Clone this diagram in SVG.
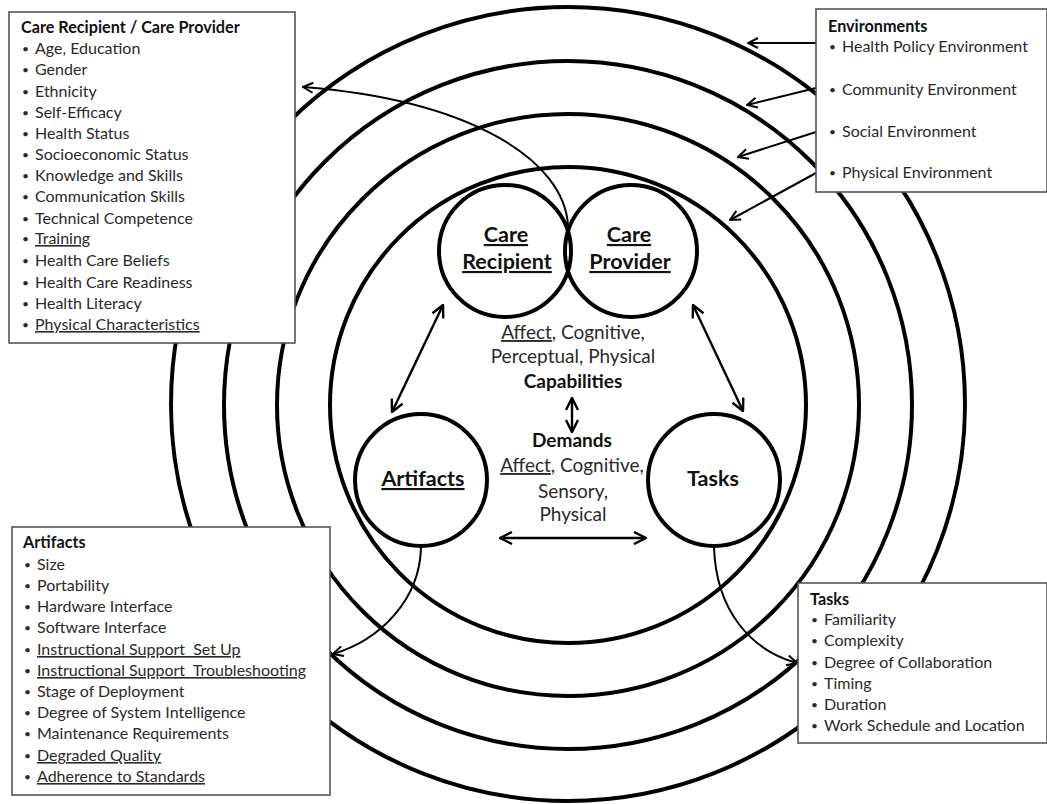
<svg xmlns="http://www.w3.org/2000/svg" width="1047" height="804" viewBox="0 0 1047 804">
<style>
.ring{fill:none;stroke:#000;stroke-width:4}
.node{fill:#fff;stroke:#000;stroke-width:4}
.box{fill:#fff;stroke:#555;stroke-width:1.6}
.ln{fill:none;stroke:#000;stroke-width:2}
.dbl{fill:none;stroke:#000;stroke-width:2.4}
text{font-family:Lato,"Liberation Sans",sans-serif;fill:#2a2a2a}
.t{font-size:16.2px;font-weight:bold;fill:#111}
.i{font-size:16px}
.b{font-size:12px}
.u{text-decoration:underline}
.c{font-size:19px;text-anchor:middle}
.cb{font-size:19px;font-weight:bold;text-anchor:middle;fill:#111}
.n{font-size:21.5px;font-weight:bold;text-anchor:middle;fill:#111}
</style>
<defs>
<marker id="ah" viewBox="0 0 12 12" refX="11" refY="6" markerWidth="12" markerHeight="12" markerUnits="userSpaceOnUse" orient="auto-start-reverse">
<path d="M1,1 L11,6 L1,11" fill="none" stroke="#000" stroke-width="2"/>
</marker>
<marker id="ah2" viewBox="0 0 14 14" refX="13" refY="7" markerWidth="14" markerHeight="14" markerUnits="userSpaceOnUse" orient="auto-start-reverse">
<path d="M1,1 L13,7 L1,13" fill="none" stroke="#000" stroke-width="2.4"/>
</marker>
</defs>
<rect width="1047" height="804" fill="#fff"/>
<g id="rings">
<circle class="ring" cx="568" cy="404" r="397"/>
<circle class="ring" cx="568" cy="405" r="344"/>
<circle class="ring" cx="568" cy="405" r="291"/>
<circle class="ring" cx="568" cy="405" r="238"/>
</g>
<g id="connectors">
<path class="ln" d="M568,226 C565,160 470,100 303,87" marker-end="url(#ah)"/>
<path class="ln" d="M421,547 C420,600 380,640 333,654" marker-end="url(#ah)"/>
<path class="ln" d="M714,547 C716,610 750,650 797,663" marker-end="url(#ah)"/>
<line class="ln" x1="816" y1="43" x2="748" y2="43" marker-end="url(#ah)"/>
<line class="ln" x1="816" y1="88" x2="747" y2="105" marker-end="url(#ah)"/>
<line class="ln" x1="816" y1="132" x2="738" y2="157" marker-end="url(#ah)"/>
<line class="ln" x1="816" y1="173" x2="730" y2="220" marker-end="url(#ah)"/>
<line class="dbl" x1="443" y1="305" x2="392" y2="412" marker-start="url(#ah2)" marker-end="url(#ah2)"/>
<line class="dbl" x1="693" y1="305" x2="743" y2="411" marker-start="url(#ah2)" marker-end="url(#ah2)"/>
<line class="dbl" x1="572" y1="398" x2="572" y2="432" stroke-width="3" marker-start="url(#ah2)" marker-end="url(#ah2)"/>
<line class="dbl" x1="500" y1="538" x2="646" y2="538" marker-start="url(#ah2)" marker-end="url(#ah2)"/>
</g>
<g id="care-recipient">
<circle class="node" cx="505" cy="251" r="66" style="fill:none"/>
<text class="n u" x="506" y="242">Care</text>
<text class="n u" x="507" y="269">Recipient</text>
</g>
<g id="care-provider">
<circle class="node" cx="631" cy="251" r="66" style="fill:none"/>
<text class="n u" x="629" y="242">Care</text>
<text class="n u" x="630" y="269">Provider</text>
</g>
<g id="artifacts">
<circle class="node" cx="421" cy="480" r="66"/>
<text class="n u" x="423" y="486">Artifacts</text>
</g>
<g id="tasks">
<circle class="node" cx="714" cy="480" r="66"/>
<text class="n" x="713" y="486">Tasks</text>
</g>
<g id="capabilities-demands">
<text class="c" x="573" y="339"><tspan class="u">Affect</tspan>, Cognitive,</text>
<text class="c" x="573" y="363">Perceptual, Physical</text>
<text class="cb" x="573" y="388">Capabilities</text>
<text class="cb" x="572" y="447">Demands</text>
<text class="c" x="572" y="472"><tspan class="u">Affect</tspan>, Cognitive,</text>
<text class="c" x="573" y="498">Sensory,</text>
<text class="c" x="573" y="521">Physical</text>
</g>
<g id="box-care">
<rect class="box" x="9" y="12" width="286" height="331"/>
<text class="t" x="21" y="33">Care Recipient / Care Provider</text>
<text class="b" x="22" y="53">•</text><text class="i" x="35" y="54">Age, Education</text>
<text class="b" x="22" y="74">•</text><text class="i" x="35" y="75">Gender</text>
<text class="b" x="22" y="95.5">•</text><text class="i" x="35" y="96.5">Ethnicity</text>
<text class="b" x="22" y="117">•</text><text class="i" x="35" y="118">Self-Efficacy</text>
<text class="b" x="22" y="138">•</text><text class="i" x="35" y="139">Health Status</text>
<text class="b" x="22" y="159">•</text><text class="i" x="35" y="160">Socioeconomic Status</text>
<text class="b" x="22" y="180">•</text><text class="i" x="35" y="181">Knowledge and Skills</text>
<text class="b" x="22" y="201">•</text><text class="i" x="35" y="202">Communication Skills</text>
<text class="b" x="22" y="223">•</text><text class="i" x="35" y="224">Technical Competence</text>
<text class="b" x="22" y="243">•</text><text class="i u" x="35" y="244">Training</text>
<text class="b" x="22" y="265">•</text><text class="i" x="35" y="266">Health Care Beliefs</text>
<text class="b" x="22" y="287">•</text><text class="i" x="35" y="288">Health Care Readiness</text>
<text class="b" x="22" y="308">•</text><text class="i" x="35" y="309">Health Literacy</text>
<text class="b" x="22" y="329">•</text><text class="i u" x="35" y="330">Physical Characteristics</text>
</g>
<g id="box-env">
<rect class="box" x="816" y="9" width="231" height="183"/>
<text class="t" x="828" y="32">Environments</text>
<text class="b" x="829" y="51">•</text><text class="i" x="842" y="52">Health Policy Environment</text>
<text class="b" x="829" y="94">•</text><text class="i" x="842" y="95">Community Environment</text>
<text class="b" x="829" y="136">•</text><text class="i" x="842" y="137">Social Environment</text>
<text class="b" x="829" y="177">•</text><text class="i" x="842" y="178">Physical Environment</text>
</g>
<g id="box-artifacts">
<rect class="box" x="12" y="527" width="318" height="268"/>
<text class="t" x="23" y="548">Artifacts</text>
<text class="b" x="24" y="569">•</text><text class="i" x="37" y="570">Size</text>
<text class="b" x="24" y="590">•</text><text class="i" x="37" y="591">Portability</text>
<text class="b" x="24" y="611">•</text><text class="i" x="37" y="612">Hardware Interface</text>
<text class="b" x="24" y="632">•</text><text class="i" x="37" y="633">Software Interface</text>
<text class="b" x="24" y="654">•</text><text class="i u" x="37" y="655">Instructional Support&#160; Set Up</text>
<text class="b" x="24" y="675">•</text><text class="i u" x="37" y="676">Instructional Support&#160; Troubleshooting</text>
<text class="b" x="24" y="696">•</text><text class="i" x="37" y="697">Stage of Deployment</text>
<text class="b" x="24" y="717">•</text><text class="i" x="37" y="718">Degree of System Intelligence</text>
<text class="b" x="24" y="738">•</text><text class="i" x="37" y="739">Maintenance Requirements</text>
<text class="b" x="24" y="760">•</text><text class="i u" x="37" y="761">Degraded Quality</text>
<text class="b" x="24" y="781">•</text><text class="i u" x="37" y="782">Adherence to Standards</text>
</g>
<g id="box-tasks">
<rect class="box" x="798" y="583" width="249" height="160"/>
<text class="t" x="810" y="605">Tasks</text>
<text class="b" x="811" y="624">•</text><text class="i" x="824" y="625">Familiarity</text>
<text class="b" x="811" y="645">•</text><text class="i" x="824" y="646">Complexity</text>
<text class="b" x="811" y="667">•</text><text class="i" x="824" y="668">Degree of Collaboration</text>
<text class="b" x="811" y="688">•</text><text class="i" x="824" y="689">Timing</text>
<text class="b" x="811" y="709">•</text><text class="i" x="824" y="710">Duration</text>
<text class="b" x="811" y="730">•</text><text class="i" x="824" y="731">Work Schedule and Location</text>
</g>
</svg>
